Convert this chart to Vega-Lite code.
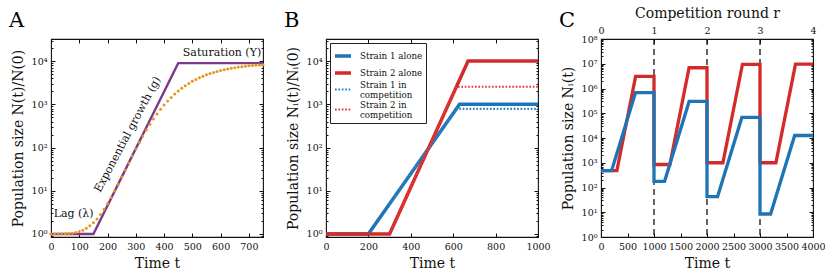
{
  "$schema": "https://vega.github.io/schema/vega-lite/v6.json",
  "background": "white",
  "padding": {"left": 8, "top": 5, "right": 5, "bottom": 5},
  "bounds": "flush",
  "spacing": 63,
  "resolve": {
    "scale": {"color": "independent", "strokeDash": "independent", "strokeWidth": "independent"},
    "legend": {"color": "independent", "strokeDash": "independent", "strokeWidth": "independent"}
  },
  "datasets": {
    "purpleA": [{"t": 0, "n": 1}, {"t": 150, "n": 1}, {"t": 450, "n": 9000}, {"t": 750, "n": 9000}],
    "orangeA": [
      {"t": 0, "n": 1.0}, {"t": 12.5, "n": 1.001}, {"t": 25, "n": 1.002}, {"t": 37.5, "n": 1.005}, {"t": 50, "n": 1.011},
      {"t": 62.5, "n": 1.023}, {"t": 75, "n": 1.043}, {"t": 87.5, "n": 1.078}, {"t": 100, "n": 1.134}, {"t": 112.5, "n": 1.22},
      {"t": 125, "n": 1.349}, {"t": 137.5, "n": 1.54}, {"t": 150, "n": 1.82}, {"t": 162.5, "n": 2.23}, {"t": 175, "n": 2.83},
      {"t": 187.5, "n": 3.71}, {"t": 200, "n": 5.02}, {"t": 212.5, "n": 6.97}, {"t": 225, "n": 9.88}, {"t": 237.5, "n": 14.2},
      {"t": 250, "n": 20.7}, {"t": 262.5, "n": 30.2}, {"t": 275, "n": 44.1}, {"t": 287.5, "n": 64.0}, {"t": 300, "n": 92.2},
      {"t": 312.5, "n": 131}, {"t": 325, "n": 184}, {"t": 337.5, "n": 254}, {"t": 350, "n": 344}, {"t": 362.5, "n": 458},
      {"t": 375, "n": 598}, {"t": 387.5, "n": 766}, {"t": 400, "n": 964}, {"t": 412.5, "n": 1191}, {"t": 425, "n": 1446},
      {"t": 437.5, "n": 1729}, {"t": 450, "n": 2035}, {"t": 462.5, "n": 2361}, {"t": 475, "n": 2700}, {"t": 487.5, "n": 3052},
      {"t": 500, "n": 3410}, {"t": 512.5, "n": 3773}, {"t": 525, "n": 4132}, {"t": 537.5, "n": 4484}, {"t": 550, "n": 4830},
      {"t": 562.5, "n": 5162}, {"t": 575, "n": 5479}, {"t": 587.5, "n": 5786}, {"t": 600, "n": 6075}, {"t": 612.5, "n": 6347},
      {"t": 625, "n": 6600}, {"t": 637.5, "n": 6838}, {"t": 650, "n": 7056}, {"t": 662.5, "n": 7263}, {"t": 675, "n": 7447},
      {"t": 687.5, "n": 7621}, {"t": 700, "n": 7772}, {"t": 712.5, "n": 7918}, {"t": 725, "n": 8050}, {"t": 737.5, "n": 8164},
      {"t": 750, "n": 8270}
    ],
    "B": [
      {"t": 0, "n": 1, "series": "Strain 1 alone"}, {"t": 200, "n": 1, "series": "Strain 1 alone"}, {"t": 630, "n": 1000, "series": "Strain 1 alone"}, {"t": 1000, "n": 1000, "series": "Strain 1 alone"},
      {"t": 0, "n": 1, "series": "Strain 2 alone"}, {"t": 300, "n": 1, "series": "Strain 2 alone"}, {"t": 670, "n": 10000, "series": "Strain 2 alone"}, {"t": 1000, "n": 10000, "series": "Strain 2 alone"},
      {"t": 300, "n": 4.99, "series": "Strain 1 in competition"}, {"t": 615, "n": 785, "series": "Strain 1 in competition"}, {"t": 1000, "n": 785, "series": "Strain 1 in competition"},
      {"t": 300, "n": 1, "series": "Strain 2 in competition"}, {"t": 615, "n": 2550, "series": "Strain 2 in competition"}, {"t": 1000, "n": 2550, "series": "Strain 2 in competition"}
    ],
    "C": [
      {"t": 0, "n": 480, "strain": 2}, {"t": 300, "n": 480, "strain": 2}, {"t": 653, "n": 3100000, "strain": 2}, {"t": 1000, "n": 3100000, "strain": 2},
      {"t": 1000, "n": 850, "strain": 2}, {"t": 1300, "n": 850, "strain": 2}, {"t": 1662, "n": 6900000, "strain": 2}, {"t": 2000, "n": 6900000, "strain": 2},
      {"t": 2000, "n": 1000, "strain": 2}, {"t": 2300, "n": 1000, "strain": 2}, {"t": 2669, "n": 9500000, "strain": 2}, {"t": 3000, "n": 9500000, "strain": 2},
      {"t": 3000, "n": 1000, "strain": 2}, {"t": 3300, "n": 1000, "strain": 2}, {"t": 3670, "n": 9600000, "strain": 2}, {"t": 4000, "n": 9600000, "strain": 2},
      {"t": 0, "n": 480, "strain": 1}, {"t": 200, "n": 480, "strain": 1}, {"t": 651, "n": 680000, "strain": 1}, {"t": 1000, "n": 680000, "strain": 1},
      {"t": 1000, "n": 178, "strain": 1}, {"t": 1200, "n": 178, "strain": 1}, {"t": 1663, "n": 300000, "strain": 1}, {"t": 2000, "n": 300000, "strain": 1},
      {"t": 2000, "n": 43, "strain": 1}, {"t": 2200, "n": 43, "strain": 1}, {"t": 2658, "n": 68000, "strain": 1}, {"t": 3000, "n": 68000, "strain": 1},
      {"t": 3000, "n": 8.5, "strain": 1}, {"t": 3200, "n": 8.5, "strain": 1}, {"t": 3654, "n": 12600, "strain": 1}, {"t": 4000, "n": 12600, "strain": 1}
    ],
    "roundsC": [{"t": 1000}, {"t": 2000}, {"t": 3000}]
  },
  "hconcat": [
    {
      "width": 212, "height": 198,
      "title": {"text": "A", "dx": -42, "offset": 8},
      "resolve": {"axis": {"x": "independent", "y": "independent"}},
      "layer": [
        {
          "data": {"name": "purpleA"},
          "mark": {"type": "line", "color": "#7b3a8a", "strokeWidth": 2.4},
          "encoding": {
            "x": {"field": "t", "type": "quantitative", "scale": {"domain": [0, 750], "nice": false, "zero": false},
                  "axis": {"orient": "bottom", "values": [0, 100, 200, 300, 400, 500, 600, 700], "format": "d", "title": "Time t"}},
            "y": {"field": "n", "type": "quantitative", "scale": {"type": "log", "domain": [0.85, 32500], "nice": false},
                  "axis": {"orient": "left", "values": [1, 10, 100, 1000, 10000], "labelExpr": "'10' + ['⁰','¹','²','³','⁴','⁵','⁶','⁷','⁸'][round(log(datum.value)/LN10)]", "title": "Population size N(t)/N(0)"}}
          }
        },
        {
          "data": {"name": "orangeA"},
          "mark": {"type": "point", "filled": true, "size": 9, "color": "#e8951e", "opacity": 1, "strokeWidth": 0},
          "encoding": {
            "x": {"field": "t", "type": "quantitative", "axis": {"orient": "top", "values": [0, 100, 200, 300, 400, 500, 600, 700], "labels": false, "title": null}},
            "y": {"field": "n", "type": "quantitative", "axis": {"orient": "right", "values": [1, 10, 100, 1000, 10000], "labels": false, "title": null}}
          }
        },
        {
          "data": {"values": [{"t": 605, "n": 15200, "label": "Saturation (Y)"}, {"t": 80, "n": 2.9, "label": "Lag (λ)"}]},
          "mark": {"type": "text", "font": "DejaVu Serif", "fontSize": 11, "align": "center", "baseline": "middle", "color": "#111"},
          "encoding": {
            "x": {"field": "t", "type": "quantitative", "axis": null},
            "y": {"field": "n", "type": "quantitative", "axis": {"orient": "left", "values": [0.9, 2, 3, 4, 5, 6, 7, 8, 9, 20, 30, 40, 50, 60, 70, 80, 90, 200, 300, 400, 500, 600, 700, 800, 900, 2000, 3000, 4000, 5000, 6000, 7000, 8000, 9000, 20000, 30000], "labels": false, "title": null, "tickSize": -2}},
            "text": {"field": "label"}
          }
        },
        {
          "data": {"values": [{"t": 272, "n": 200, "label": "Exponential growth (g)"}]},
          "mark": {"type": "text", "font": "DejaVu Serif", "fontSize": 11, "align": "center", "baseline": "middle", "angle": -62, "color": "#111"},
          "encoding": {
            "x": {"field": "t", "type": "quantitative", "axis": null},
            "y": {"field": "n", "type": "quantitative", "axis": {"orient": "right", "values": [0.9, 2, 3, 4, 5, 6, 7, 8, 9, 20, 30, 40, 50, 60, 70, 80, 90, 200, 300, 400, 500, 600, 700, 800, 900, 2000, 3000, 4000, 5000, 6000, 7000, 8000, 9000, 20000, 30000], "labels": false, "title": null, "tickSize": -2}},
            "text": {"field": "label"}
          }
        }
      ]
    },
    {
      "width": 212, "height": 198,
      "title": {"text": "B", "dx": -42, "offset": 8},
      "resolve": {"axis": {"x": "independent", "y": "independent"}},
      "layer": [
        {
          "data": {"name": "B"},
          "mark": {"type": "line"},
          "encoding": {
            "x": {"field": "t", "type": "quantitative", "scale": {"domain": [0, 1000], "nice": false, "zero": false},
                  "axis": {"orient": "bottom", "values": [0, 200, 400, 600, 800, 1000], "format": "d", "title": "Time t"}},
            "y": {"field": "n", "type": "quantitative", "scale": {"type": "log", "domain": [0.85, 32500], "nice": false},
                  "axis": {"orient": "left", "values": [1, 10, 100, 1000, 10000], "labelExpr": "'10' + ['⁰','¹','²','³','⁴','⁵','⁶','⁷','⁸'][round(log(datum.value)/LN10)]", "title": "Population size Nᵢ(t)/Nᵢ(0)"}},
            "color": {"field": "series", "type": "nominal",
                      "scale": {"domain": ["Strain 1 alone", "Strain 2 alone", "Strain 1 in competition", "Strain 2 in competition"], "range": ["#1f74b6", "#d42a2a", "#2a84c8", "#e03a3a"]},
                      "legend": {"title": null, "orient": "top-left", "offset": 4, "padding": 3, "strokeColor": "#222", "fillColor": "white", "cornerRadius": 0, "symbolType": "stroke", "symbolSize": 256, "labelFont": "DejaVu Serif", "labelFontSize": 8.7, "labelColor": "#111", "labelOffset": 7, "rowPadding": -3, "labelLimit": 200,
                                 "labelExpr": "indexof(datum.label, ' in ') >= 0 ? [slice(datum.label, 0, indexof(datum.label, ' in ') + 3), slice(datum.label, indexof(datum.label, ' in ') + 4)] : datum.label",
                                 "encode": {"labels": {"update": {"lineHeight": {"value": 10.5}, "dy": {"signal": "indexof(datum.label, ' in ') >= 0 ? -5 : 0"}}}}}},
            "strokeDash": {"field": "series", "type": "nominal",
                      "scale": {"domain": ["Strain 1 alone", "Strain 2 alone", "Strain 1 in competition", "Strain 2 in competition"], "range": [[1, 0], [1, 0], [1.7, 1.7], [1.7, 1.7]]},
                      "legend": {"title": null, "orient": "top-left", "offset": 4, "padding": 3, "strokeColor": "#222", "fillColor": "white", "cornerRadius": 0, "symbolType": "stroke", "symbolSize": 256, "labelFont": "DejaVu Serif", "labelFontSize": 8.7, "labelColor": "#111", "labelOffset": 7, "rowPadding": -3, "labelLimit": 200,
                                 "labelExpr": "indexof(datum.label, ' in ') >= 0 ? [slice(datum.label, 0, indexof(datum.label, ' in ') + 3), slice(datum.label, indexof(datum.label, ' in ') + 4)] : datum.label",
                                 "encode": {"labels": {"update": {"lineHeight": {"value": 10.5}, "dy": {"signal": "indexof(datum.label, ' in ') >= 0 ? -5 : 0"}}}}}},
            "strokeWidth": {"field": "series", "type": "nominal",
                      "scale": {"type": "ordinal", "domain": ["Strain 1 alone", "Strain 2 alone", "Strain 1 in competition", "Strain 2 in competition"], "range": [3.5, 3.5, 2.2, 2.2]},
                      "legend": {"title": null, "orient": "top-left", "offset": 4, "padding": 3, "strokeColor": "#222", "fillColor": "white", "cornerRadius": 0, "symbolType": "stroke", "symbolSize": 256, "labelFont": "DejaVu Serif", "labelFontSize": 8.7, "labelColor": "#111", "labelOffset": 7, "rowPadding": -3, "labelLimit": 200,
                                 "labelExpr": "indexof(datum.label, ' in ') >= 0 ? [slice(datum.label, 0, indexof(datum.label, ' in ') + 3), slice(datum.label, indexof(datum.label, ' in ') + 4)] : datum.label",
                                 "encode": {"labels": {"update": {"lineHeight": {"value": 10.5}, "dy": {"signal": "indexof(datum.label, ' in ') >= 0 ? -5 : 0"}}}}}}
          }
        },
        {
          "data": {"name": "B"},
          "mark": {"type": "line", "opacity": 0},
          "encoding": {
            "x": {"field": "t", "type": "quantitative", "axis": {"orient": "top", "values": [0, 200, 400, 600, 800, 1000], "labels": false, "title": null}},
            "y": {"field": "n", "type": "quantitative", "axis": {"orient": "right", "values": [1, 10, 100, 1000, 10000], "labels": false, "title": null}},
            "detail": {"field": "series"}
          }
        },
        {
          "data": {"name": "B"},
          "mark": {"type": "line", "opacity": 0},
          "encoding": {
            "x": {"field": "t", "type": "quantitative", "axis": null},
            "y": {"field": "n", "type": "quantitative", "axis": {"orient": "left", "values": [0.9, 2, 3, 4, 5, 6, 7, 8, 9, 20, 30, 40, 50, 60, 70, 80, 90, 200, 300, 400, 500, 600, 700, 800, 900, 2000, 3000, 4000, 5000, 6000, 7000, 8000, 9000, 20000, 30000], "labels": false, "title": null, "tickSize": -2}},
            "detail": {"field": "series"}
          }
        },
        {
          "data": {"name": "B"},
          "mark": {"type": "line", "opacity": 0},
          "encoding": {
            "x": {"field": "t", "type": "quantitative", "axis": null},
            "y": {"field": "n", "type": "quantitative", "axis": {"orient": "right", "values": [0.9, 2, 3, 4, 5, 6, 7, 8, 9, 20, 30, 40, 50, 60, 70, 80, 90, 200, 300, 400, 500, 600, 700, 800, 900, 2000, 3000, 4000, 5000, 6000, 7000, 8000, 9000, 20000, 30000], "labels": false, "title": null, "tickSize": -2}},
            "detail": {"field": "series"}
          }
        }
      ]
    },
    {
      "width": 212, "height": 198,
      "title": {"text": "C", "dx": -42, "offset": 8, "dy": 33},
      "resolve": {"axis": {"x": "independent", "y": "independent"}},
      "layer": [
        {
          "data": {"name": "roundsC"},
          "mark": {"type": "rule", "color": "#111", "strokeWidth": 1.3, "strokeDash": [6, 4]},
          "encoding": {
            "x": {"field": "t", "type": "quantitative", "scale": {"domain": [0, 4000], "nice": false, "zero": false},
                  "axis": {"orient": "bottom", "values": [0, 500, 1000, 1500, 2000, 2500, 3000, 3500, 4000], "format": "d", "title": "Time t"}}
          }
        },
        {
          "data": {"name": "C"},
          "transform": [{"filter": "datum.strain == 2"}],
          "mark": {"type": "line", "color": "#d42a2a", "strokeWidth": 3.3},
          "encoding": {
            "x": {"field": "t", "type": "quantitative", "axis": {"orient": "top", "values": [0, 1000, 2000, 3000, 4000], "labelExpr": "format(datum.value / 1000, 'd')", "title": "Competition round r", "titlePadding": 5}},
            "y": {"field": "n", "type": "quantitative", "scale": {"type": "log", "domain": [1, 100000000], "nice": false},
                  "axis": {"orient": "left", "values": [1, 10, 100, 1000, 10000, 100000, 1000000, 10000000, 100000000], "labelExpr": "'10' + ['⁰','¹','²','³','⁴','⁵','⁶','⁷','⁸'][round(log(datum.value)/LN10)]", "title": "Population size Nᵢ(t)"}},
            "order": {"value": null}
          }
        },
        {
          "data": {"name": "C"},
          "transform": [{"filter": "datum.strain == 1"}],
          "mark": {"type": "line", "color": "#1f74b6", "strokeWidth": 3.3},
          "encoding": {
            "x": {"field": "t", "type": "quantitative", "axis": null},
            "y": {"field": "n", "type": "quantitative", "axis": {"orient": "right", "values": [1, 10, 100, 1000, 10000, 100000, 1000000, 10000000, 100000000], "labels": false, "title": null}},
            "order": {"value": null}
          }
        },
        {
          "data": {"name": "C"},
          "mark": {"type": "line", "opacity": 0},
          "encoding": {
            "x": {"field": "t", "type": "quantitative", "axis": null},
            "y": {"field": "n", "type": "quantitative", "axis": {"orient": "left", "values": [2, 3, 4, 5, 6, 7, 8, 9, 20, 30, 40, 50, 60, 70, 80, 90, 200, 300, 400, 500, 600, 700, 800, 900, 2000, 3000, 4000, 5000, 6000, 7000, 8000, 9000, 20000, 30000, 40000, 50000, 60000, 70000, 80000, 90000, 200000, 300000, 400000, 500000, 600000, 700000, 800000, 900000, 2000000, 3000000, 4000000, 5000000, 6000000, 7000000, 8000000, 9000000, 20000000, 30000000, 40000000, 50000000, 60000000, 70000000, 80000000, 90000000], "labels": false, "title": null, "tickSize": -2}},
            "detail": {"field": "strain"},
            "order": {"value": null}
          }
        },
        {
          "data": {"name": "C"},
          "mark": {"type": "line", "opacity": 0},
          "encoding": {
            "x": {"field": "t", "type": "quantitative", "axis": null},
            "y": {"field": "n", "type": "quantitative", "axis": {"orient": "right", "values": [2, 3, 4, 5, 6, 7, 8, 9, 20, 30, 40, 50, 60, 70, 80, 90, 200, 300, 400, 500, 600, 700, 800, 900, 2000, 3000, 4000, 5000, 6000, 7000, 8000, 9000, 20000, 30000, 40000, 50000, 60000, 70000, 80000, 90000, 200000, 300000, 400000, 500000, 600000, 700000, 800000, 900000, 2000000, 3000000, 4000000, 5000000, 6000000, 7000000, 8000000, 9000000, 20000000, 30000000, 40000000, 50000000, 60000000, 70000000, 80000000, 90000000], "labels": false, "title": null, "tickSize": -2}},
            "detail": {"field": "strain"},
            "order": {"value": null}
          }
        }
      ]
    }
  ],
  "config": {
    "font": "DejaVu Serif",
    "view": {"stroke": "#111", "strokeWidth": 1.1},
    "title": {"font": "DejaVu Serif", "fontSize": 21, "fontWeight": "normal", "anchor": "start", "frame": "group", "baseline": "alphabetic", "color": "#000"},
    "axis": {"domain": false, "grid": false, "tickColor": "#111", "tickWidth": 1, "tickSize": -4, "labelPadding": 8, "labelFlush": false, "labelOverlap": false,
             "labelFont": "DejaVu Serif", "labelFontSize": 9.5, "labelColor": "#111",
             "titleFont": "DejaVu Serif", "titleFontSize": 14, "titleFontWeight": "normal", "titleColor": "#111", "titlePadding": 6}
  }
}
